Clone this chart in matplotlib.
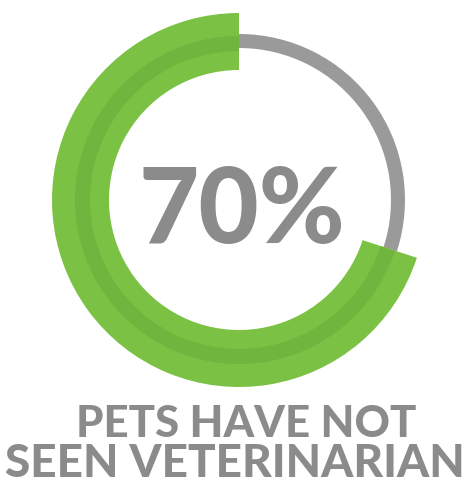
import matplotlib
matplotlib.use("Agg")
import matplotlib.pyplot as plt
from matplotlib.patches import Wedge

# Share of pets that have not seen a veterinarian
share_pct = 70
headline = f"{share_pct}%"
caption_lines = ["PETS HAVE NOT", "SEEN VETERINARIAN"]

GREEN = "#7bc143"
GREEN_DARK = "#6fb53e"
RING_GRAY = "#9a9a9a"
TEXT_GRAY = "#8b8b8b"

W, H = 473, 496
fig = plt.figure(figsize=(W / 100, H / 100), dpi=100)
ax = fig.add_axes([0, 0, 1, 1])
ax.set_xlim(0, W)
ax.set_ylim(0, H)
ax.set_aspect("equal")
ax.axis("off")

cx, cy = 239, H - 200
start = 90.0
end = start + 360.0 * share_pct / 100.0

# remaining share: thin gray ring
ax.add_patch(Wedge((cx, cy), 166, end, start + 360, width=14,
                   facecolor=RING_GRAY, edgecolor="none"))
# highlighted share: thick green ring with a darker inner stripe
ax.add_patch(Wedge((cx, cy), 187, start, end, width=57,
                   facecolor=GREEN, edgecolor="none"))
ax.add_patch(Wedge((cx, cy), 164, start, end, width=15,
                   facecolor=GREEN_DARK, edgecolor="none"))

font = ["Lato", "DejaVu Sans"]
ax.text(242, H - 243, headline, ha="center", va="baseline",
        fontsize=75, fontweight="black", color=TEXT_GRAY, family=font)
ax.text(246, H - 437, caption_lines[0], ha="center", va="baseline",
        fontsize=31.5, fontweight="black", color=TEXT_GRAY, family=font)
ax.text(235, H - 477, caption_lines[1], ha="center", va="baseline",
        fontsize=33, fontweight="black", color=TEXT_GRAY, family=font)

fig.savefig("out.png", dpi=100, facecolor="white")
